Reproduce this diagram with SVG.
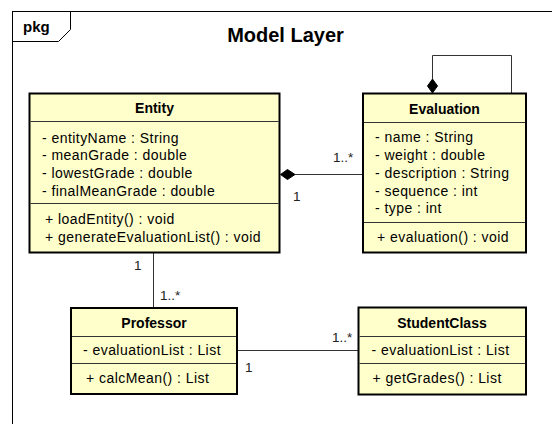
<svg xmlns="http://www.w3.org/2000/svg" width="552" height="424" viewBox="0 0 552 424">
  <style>
    .frame { fill: none; stroke: #000; stroke-width: 1; }
    .box { fill: #ffffcc; stroke: #000; stroke-width: 2; }
    .div { stroke: #333; stroke-width: 1; }
    .conn { fill: none; stroke: #333; stroke-width: 1; }
    .diamond { fill: #000; stroke: #000; stroke-width: 1; }
    text { font-family: "Liberation Sans", Arial, sans-serif; font-size: 14px; letter-spacing: 0.45px; fill: #000; }
    .title { font-weight: bold; letter-spacing: 0; text-anchor: middle; }
    .pkg { font-weight: bold; font-size: 15px; letter-spacing: 0; }
    .head { font-weight: bold; font-size: 20px; letter-spacing: 0; text-anchor: middle; }
    .mult { fill: #222; font-size: 13.5px; letter-spacing: 0; }
  </style>

  <rect width="552" height="424" fill="#fff"/>

  <!-- package frame -->
  <g id="package">
    <rect class="frame" x="12.5" y="11.5" width="560" height="430"/>
    <path class="frame" d="M12.5,41.5 H58.5 L70.5,29.5 V11.5"/>
    <text class="pkg" x="23" y="32">pkg</text>
    <text class="head" x="285.5" y="42">Model Layer</text>
  </g>

  <!-- connectors -->
  <g id="connectors">
    <!-- Evaluation self composition -->
    <path class="conn" d="M432.5,79 V55.5 H511.5 V93"/>
    <path class="diamond" d="M432.5,93 L427.5,86 L432.5,79 L437.5,86 Z"/>
    <!-- Entity composes Evaluation -->
    <path class="conn" d="M295,174.5 H363"/>
    <path class="diamond" d="M280.5,174.5 L287.5,169.5 L295,174.5 L287.5,179.5 Z"/>
    <text class="mult" x="333" y="162">1..*</text>
    <text class="mult" x="293" y="201">1</text>
    <!-- Entity - Professor -->
    <path class="conn" d="M153.5,253 V307"/>
    <text class="mult" x="134" y="270">1</text>
    <text class="mult" x="160" y="300">1..*</text>
    <!-- Professor - StudentClass -->
    <path class="conn" d="M238,350.5 H358"/>
    <text class="mult" x="245" y="372">1</text>
    <text class="mult" x="332" y="341.5">1..*</text>
  </g>

  <!-- Entity -->
  <g id="entity">
    <rect class="box" x="29.5" y="93.5" width="250" height="159"/>
    <line class="div" x1="30.5" y1="121.5" x2="278.5" y2="121.5"/>
    <line class="div" x1="30.5" y1="203.5" x2="278.5" y2="203.5"/>
    <text class="title" x="154.5" y="113">Entity</text>
    <text x="42" y="142.5">- entityName : String</text>
    <text x="42" y="160.2">- meanGrade : double</text>
    <text x="42" y="177.9">- lowestGrade : double</text>
    <text x="42" y="195.5">- finalMeanGrade : double</text>
    <text x="45" y="223.5">+ loadEntity() : void</text>
    <text x="45" y="241.5">+ generateEvaluationList() : void</text>
  </g>

  <!-- Evaluation -->
  <g id="evaluation">
    <rect class="box" x="363" y="93.5" width="163" height="159"/>
    <line class="div" x1="364" y1="122.5" x2="525" y2="122.5"/>
    <line class="div" x1="364" y1="222.5" x2="525" y2="222.5"/>
    <text class="title" x="444.5" y="114">Evaluation</text>
    <text x="375" y="142.3">- name : String</text>
    <text x="375" y="160">- weight : double</text>
    <text x="375" y="177.7">- description : String</text>
    <text x="375" y="195.7">- sequence : int</text>
    <text x="375" y="213.3">- type : int</text>
    <text x="377" y="242.3">+ evaluation() : void</text>
  </g>

  <!-- Professor -->
  <g id="professor">
    <rect class="box" x="71" y="308" width="166" height="86"/>
    <line class="div" x1="72" y1="336.5" x2="236" y2="336.5"/>
    <line class="div" x1="72" y1="363.5" x2="236" y2="363.5"/>
    <text class="title" x="154" y="327.5">Professor</text>
    <text x="83" y="355">- evaluationList : List</text>
    <text x="86" y="382.5">+ calcMean() : List</text>
  </g>

  <!-- StudentClass -->
  <g id="studentclass">
    <rect class="box" x="358.5" y="307.5" width="167.5" height="87"/>
    <line class="div" x1="359.5" y1="336.5" x2="525" y2="336.5"/>
    <line class="div" x1="359.5" y1="363.5" x2="525" y2="363.5"/>
    <text class="title" x="442" y="327.5">StudentClass</text>
    <text x="371.5" y="355">- evaluationList : List</text>
    <text x="372.5" y="382.5">+ getGrades() : List</text>
  </g>
</svg>
